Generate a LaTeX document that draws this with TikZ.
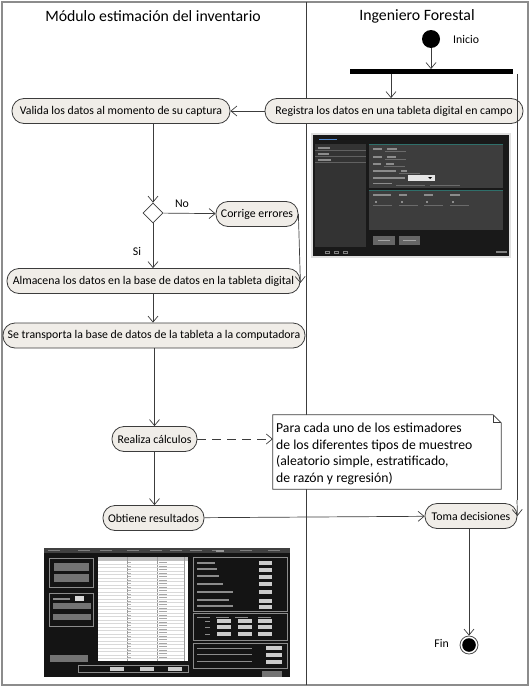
\documentclass[tikz,border=0pt]{standalone}
\usepackage{fontspec}
\setmainfont{Carlito}
\usetikzlibrary{arrows.meta,shapes.geometric}
\definecolor{linec}{HTML}{3C3C3C}
\definecolor{actfill}{HTML}{F0EDE8}
\definecolor{framec}{HTML}{8C8C8C}
\definecolor{teal}{HTML}{2F6F6A}
\tikzset{
  act/.style={draw=linec, fill=actfill, line width=0.8pt, rounded corners=12pt,
    minimum height=25pt, inner xsep=3pt, inner ysep=0pt, font=\fontsize{11.8}{13}\selectfont},
  flow/.style={draw=linec, line width=0.7pt, -{Straight Barb[length=6pt,width=10pt]}},
  lbl/.style={font=\fontsize{11.8}{13}\selectfont, inner sep=1pt},
  ttl/.style={font=\fontsize{15.8}{18}\selectfont, inner sep=0pt},
  pbox/.style={draw=black!45, line width=0.8pt},
}
\begin{document}
\begin{tikzpicture}[x=1pt,y=-1pt]
\useasboundingbox (0,0) rectangle (530,688);
\draw[framec, line width=1.6pt] (2,2) rectangle (528,685);
\draw[linec, line width=0.7pt] (306,2) -- (306,685);

% titles
\node[ttl] (t1) at (153,16) {Módulo estimación del inventario};
\node[ttl] (t2) at (417,16) {Ingeniero Forestal};

% start
\node[circle, fill=black, minimum size=18pt, inner sep=0pt] (ini) at (431,39) {};
\node[lbl, anchor=west] (inil) at (452,39) {Inicio};
\node[fill=black, minimum width=163pt, minimum height=4.5pt, inner sep=0pt] (bar) at (431.5,71.5) {};
\coordinate (barR) at (517,73.75);

% activities
\node[act, minimum width=218pt] (valida) at (121,111) {Valida los datos al momento de su captura};
\node[act, minimum width=258pt] (registra) at (394,111) {Registra los datos en una tableta digital en campo};
\node[draw=linec, fill=white, line width=0.8pt, diamond, minimum width=20pt, minimum height=20pt, inner sep=0pt] (dec) at (153,213) {};
\node[act, minimum width=82pt] (corrige) at (257,214) {Corrige errores};
\node[lbl] (no) at (182,204) {No};
\node[lbl] (si) at (137,251) {Si};
\node[act, minimum width=293pt] (almacena) at (153.5,281) {Almacena los datos en la base de datos en la tableta digital};
\node[act, minimum width=302pt] (transp) at (154,335.5) {Se transporta la base de datos de la tableta a la computadora};
\node[act, minimum width=85pt] (realiza) at (154.5,439) {Realiza cálculos};
\node[act, minimum width=101pt] (obtiene) at (153.5,518) {Obtiene resultados};
\node[act, minimum width=92pt] (toma) at (471,516) {Toma decisiones};

% note
\node[minimum width=228pt, minimum height=74pt, inner sep=0pt] (note) at (387,452) {};
\draw[linec, line width=0.7pt, fill=white] (note.north west) -- ([xshift=-8pt]note.north east) -- ([yshift=-8pt]note.north east) -- (note.south east) -- (note.south west) -- cycle;
\draw[linec, line width=0.7pt] ([xshift=-8pt]note.north east) -- ([xshift=-8pt,yshift=-8pt]note.north east) -- ([yshift=-8pt]note.north east);
\node[anchor=north west, align=left, font=\fontsize{13.7}{16.5}\selectfont, inner sep=0pt] (notet) at (276,423)
  {Para cada uno de los estimadores\\de los diferentes tipos de muestreo\\(aleatorio simple, estratificado,\\de razón y regresión)};

% end
\node[circle, draw=black!70, line width=0.8pt, fill=white, minimum size=18pt, inner sep=0pt] (fin) at (469,645) {};
\fill[black] (fin.center) circle (6.8pt);
\node[lbl, anchor=east] (finl) at (450,643) {Fin};

% connectors
\draw[flow] (ini) -- (bar.north -| ini);
\draw[flow] (bar.south -| 391,0) -- (registra.north -| 391,0);
\draw[draw=linec, line width=0.7pt] (barR) -- (517,500);
\draw[flow] (517,500) -- (toma.east);
\draw[flow] (registra) -- (valida);
\draw[flow] (valida.south -| dec) -- (dec.north);
\draw[flow] (dec) -- (corrige);
\draw[flow] (dec) -- (almacena.north -| dec);
\draw[flow] (corrige.east) -- ([yshift=-2pt]almacena.east);
\draw[flow] (almacena.south -| dec) -- (transp.north -| dec);
\draw[flow] (transp.south -| realiza) -- (realiza);
\draw[flow, dash pattern=on 9pt off 6pt] (realiza) -- (note.west |- realiza);
\draw[flow] (realiza) -- (obtiene.north -| realiza);
\draw[flow] (obtiene) -- (toma);
\draw[flow] (toma.south -| fin) -- (fin);

% tablet screenshot
\fill[black!12] (311,133) rectangle (511,258);
\fill[black!90] (313,135) rectangle (509,256);
\fill[cyan!50!blue!70] (319,138.5) rectangle (337,140);
\fill[black!80] (315,144) rectangle (366,247);
\foreach \yy in {150,156,162} {\draw[black!62, line width=0.3pt] (315,\yy) -- (366,\yy);}
\foreach \yy/\ww in {148/12,154/11,160/13} {\fill[black!45] (318,\yy-0.8) rectangle (318+\ww,\yy+0.8);}
\fill[black!76] (369,144) rectangle (503,188);
\draw[teal, line width=1pt] (369,144.5) -- (503,144.5);
\fill[black!76] (369,190) rectangle (503,230);
\draw[teal, line width=1pt] (369,190.5) -- (503,190.5);
\foreach \yy/\ww/\vv in {149/9/10,157/9/9,164/8/8,171/23/6} {
  \fill[black!45] (373,\yy-0.8) rectangle (373+\ww,\yy+0.8);
  \fill[black!45] (373+\ww+5,\yy-0.8) rectangle (373+\ww+5+\vv,\yy+0.8);
  \draw[black!58, line width=0.3pt] (373+\ww+3,\yy+2.5) -- (373+\ww+24,\yy+2.5);}
\fill[black!45] (373,177) rectangle (405,178.6);
\fill[white!90!black] (408,175) rectangle (435,181);
\fill[black] (428,177) -- (432,177) -- (430,179) -- cycle;
\fill[black!45] (373,182.5) rectangle (392,184);
\draw[black!58, line width=0.3pt] (396,185) -- (425,185);
\draw[black!58, line width=0.3pt] (430,185) -- (460,185);
\foreach \xx/\ww in {373/18,399/8,424/9,450/10} {
  \fill[black!45] (\xx,194.3) rectangle (\xx+\ww,195.8);
  \fill[black!45] (\xx+2,201) rectangle (\xx+4,202.5);
  \draw[black!58, line width=0.3pt] (\xx,205) -- (\xx+19,205);}
\fill[black!60] (373,236) rectangle (395,245);
\fill[black!60] (399,236) rectangle (420,245);
\fill[black!35] (378,240) rectangle (390,241);
\fill[black!35] (403,240) rectangle (416,241);
\foreach \xx in {327,336,345} {\draw[black!50, line width=0.5pt] (\xx-2,251) rectangle (\xx+2,253.5);}
\fill[black!50] (496,251) rectangle (507,253);

% desktop screenshot
\fill[black!92] (44,548) rectangle (290,677);
\fill[black!75] (44,548) rectangle (290,553);
\foreach \xx in {48,78,100,127,150,170,190,212,240,268} {\fill[black!50] (\xx,550) rectangle (\xx+12,551.2);}
\fill[black!40] (216,549.5) rectangle (224,552);
\draw[pbox] (49,558) rectangle (93,587);
\fill[black!55] (54,563) rectangle (89,571);
\fill[black!55] (54,574) rectangle (89,582);
\draw[pbox] (49,593) rectangle (93,626);
\fill[black!45] (53,598) rectangle (70,599.5);
\fill[white!85!black] (75,596) rectangle (84,601);
\fill[black!55] (53,603) rectangle (91,609);
\fill[black!55] (53,614) rectangle (91,620);
\fill[black!55] (50,655) rectangle (88,662);
\fill[white] (98,557) rectangle (188,661);
\fill[black!25] (98,557) rectangle (188,561);
\draw[black!40, line width=0.3pt] (127,557) -- (127,661);
\draw[black!40, line width=0.3pt] (157,557) -- (157,661);
\draw[black!40, line width=0.3pt] (184,557) -- (184,661);
\foreach \k in {0,...,27} {\draw[black!15, line width=0.25pt] (98,564+3.5*\k) -- (184,564+3.5*\k);
  \fill[black!35] (159,562+3.5*\k) rectangle (167,563.2+3.5*\k);
  \fill[black!30] (128,562+3.5*\k) rectangle (131,563.2+3.5*\k);}
\draw[pbox] (78,665) rectangle (188,672);
\foreach \xx in {110,140,168} {\fill[white!80!black] (\xx,666.5) rectangle (\xx+14,670.5);}
\draw[pbox] (193,557) rectangle (287,611);
\foreach \yy/\ww in {563/18,569/20,576/22,584/26,592/36,600/32,606/36} {
  \fill[black!45] (197,\yy-0.6) rectangle (197+\ww,\yy+0.6);}
\foreach \yy in {563,570,577,584,592,601,607} {\fill[white!80!black] (259,\yy-2.5) rectangle (272,\yy+2);}
\draw[pbox] (193,613) rectangle (287,640);
\foreach \xx in {197,216,235,258} {\fill[black!45] (\xx,616.5) rectangle (\xx+13,617.5);}
\foreach \yy in {621,627,634} {
  \fill[black!45] (205,\yy-0.5) rectangle (210,\yy+0.5);
  \foreach \xx in {217,238,258} {\fill[white!80!black] (\xx,\yy-2.5) rectangle (\xx+14,\yy+2);}}
\draw[pbox] (193,643) rectangle (287,668);
\foreach \yy/\ww in {648/55,654/55,661/55} {\fill[black!45] (197,\yy-0.5) rectangle (197+\ww,\yy+0.5);}
\foreach \yy in {648,655,662} {\fill[white!80!black] (266,\yy-2.5) rectangle (282,\yy+2);}
\fill[black!55] (262,671) rectangle (282,677);
\end{tikzpicture}
\end{document}
